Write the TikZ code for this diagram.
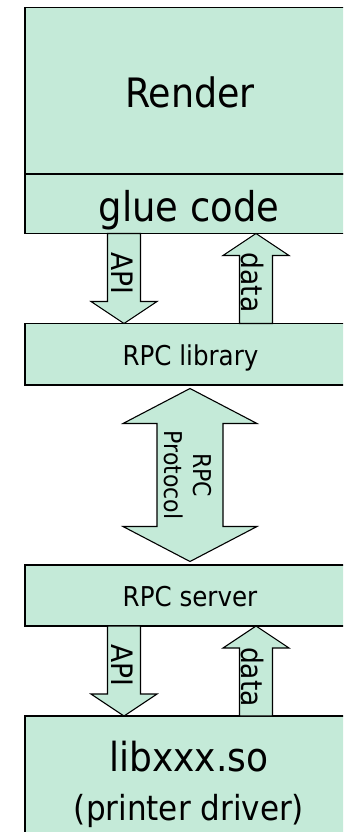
\documentclass[tikz,border=0pt]{standalone}
\usepackage{fontspec}
\setmainfont{DejaVu Sans Condensed}
\usetikzlibrary{calc}
\definecolor{mint}{RGB}{196,234,216}
\tikzset{
  layer/.style={draw=black, fill=mint, line width=1.3pt, inner sep=0pt, outer sep=0pt,
    minimum width=330pt},
  flow/.style={draw=black, fill=mint, line width=1.1pt, line join=miter},
  % vertical block arrow, head at the target end
  blockarrow/.style={to path={
    let \p1=(\tikztostart), \p2=(\tikztotarget), \n1={ifthenelse(\y2<\y1,1,-1)} in
    (\x1-16.5pt,\y1) -- (\x1-16.5pt,\y2+\n1*22pt) -- (\x1-33pt,\y2+\n1*22pt) -- (\x2,\y2)
    -- (\x1+33pt,\y2+\n1*22pt) -- (\x1+16.5pt,\y2+\n1*22pt) -- (\x1+16.5pt,\y1) -- cycle}},
  mid/.style={anchor=base, font=\fontsize{27.3}{32}\selectfont},
  tag/.style={rotate=-90, inner sep=0pt, font=\fontsize{29.5}{34}\selectfont},
}
\begin{document}
\begin{tikzpicture}[x=1pt,y=-1pt]
  \useasboundingbox (0,0) rectangle (343,832);
  \clip (0,0) rectangle (343,832);

  % layers of the stack
  \node[layer, minimum height=166.5pt] (render) at (190,90.75) {};
  \node[layer, minimum height=59.5pt]  (glue)   at (190,203.75) {};
  \node[layer, minimum height=61.5pt]  (lib)    at (190,354.25) {};
  \node[layer, minimum height=61pt]    (server) at (190,595.5) {};
  \node[layer, minimum height=164pt]   (driver) at (190,798) {};

  % arrow end points on the layer edges
  \path (glue.south)   ++(-66,0) coordinate (apiA) ++(132,0) coordinate (dataB);
  \path (lib.north)    ++(-66,0) coordinate (apiB) ++(132,0) coordinate (dataA);
  \path (server.south) ++(-66,0) coordinate (api2A) ++(132,0) coordinate (data2B);
  \path (driver.north) ++(-66,0) coordinate (api2B) ++(132,0) coordinate (data2A);
  \path (lib.south)    ++(0,3.5) coordinate (pcA);
  \path (server.north) ++(0,-3.5) coordinate (pcB);

  % single block arrows
  \path[flow] (apiA)   to[blockarrow] (apiB);
  \path[flow] (dataA)  to[blockarrow] (dataB);
  \path[flow] (api2A)  to[blockarrow] (api2B);
  \path[flow] (data2A) to[blockarrow] (data2B);

  % double block arrow for the protocol
  \path[flow] let \p1=(pcA), \p2=(pcB) in
    (\x1,\y1) -- (\x1+67pt,\y1-35pt) -- (\x1+33pt,\y1-35pt) -- (\x1+33pt,\y2+35pt)
    -- (\x1+67pt,\y2+35pt) -- (\x2,\y2) -- (\x1-67pt,\y2+35pt) -- (\x1-33pt,\y2+35pt)
    -- (\x1-33pt,\y1-35pt) -- (\x1-67pt,\y1-35pt) -- cycle;

  % labels
  \node[anchor=base, font=\fontsize{40.5}{46}\selectfont] (renderT) at (190,108) {Render};
  \node[anchor=base, font=\fontsize{41}{46}\selectfont] (glueT) at (189,221.5) {glue code};
  \node[mid] (libT) at (190.5,365) {RPC library};
  \node[mid] (serverT) at (190,606) {RPC server};
  \node[anchor=base, font=\fontsize{40}{46}\selectfont] (driverT) at (189,771.7) {libxxx.so};
  \node[anchor=base, font=\fontsize{34.5}{40}\selectfont] (driverT2) at (189,820) {(printer driver)};

  \node[tag] (apiT)   at (122.5,273) {API};
  \node[tag] (dataT)  at (252,282.5) {data};
  \node[tag] (api2T)  at (122,665) {API};
  \node[tag] (data2T) at (252.5,677) {data};
  \node[rotate=-90, align=center, inner sep=0pt,
        font=\fontsize{24.5}{29}\selectfont] (pcT) at (188,475) {RPC\\Protocol};
\end{tikzpicture}
\end{document}
